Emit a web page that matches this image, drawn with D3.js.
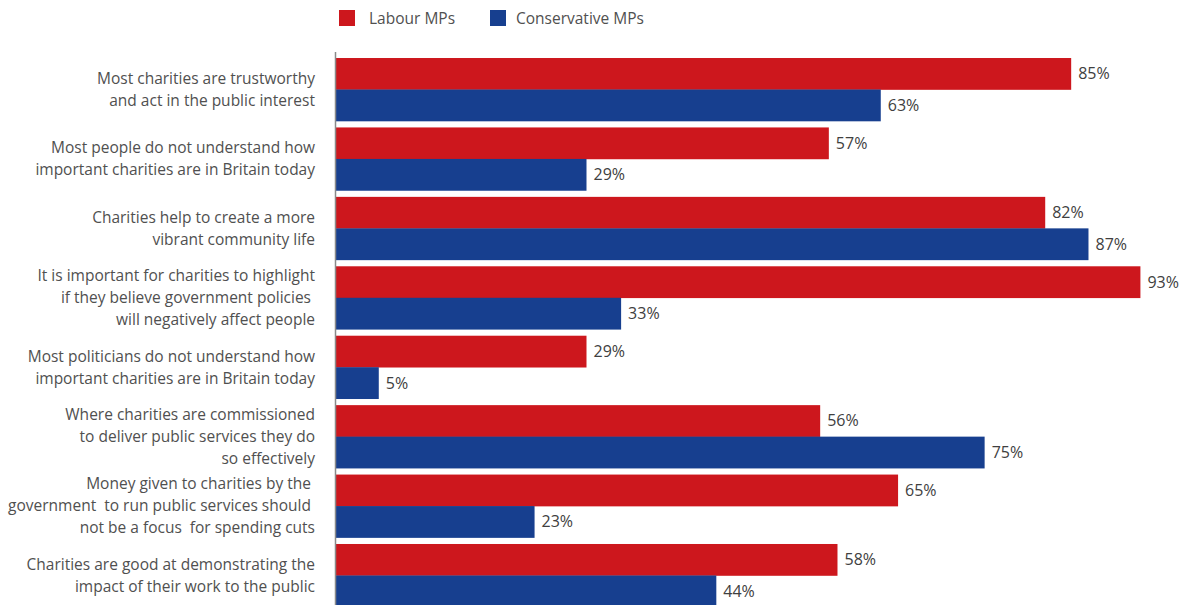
<!DOCTYPE html>
<html><head><meta charset="utf-8">
<script src="https://cdn.jsdelivr.net/npm/d3@7"></script>
<style>body{margin:0;background:#fff}svg{display:block}</style>
</head><body><svg id="c" width="1194" height="605"></svg>
<script>
const categories = [
  ["Most charities are trustworthy","and act in the public interest"],
  ["Most people do not understand how","important charities are in Britain today"],
  ["Charities help to create a more","vibrant community life"],
  ["It is important for charities to highlight","if they believe government policies ","will negatively affect people"],
  ["Most politicians do not understand how","important charities are in Britain today"],
  ["Where charities are commissioned","to deliver public services they do","so effectively"],
  ["Money given to charities by the ","government  to run public services should ","not be a focus  for spending cuts"],
  ["Charities are good at demonstrating the","impact of their work to the public"]
];
const seriesNames = ["Labour MPs","Conservative MPs"];
const labour = [85,57,82,93,29,56,65,58];
const conservative = [63,29,87,33,5,75,23,44];
const colors = ["#cd171d","#173f8f"];

const svg = d3.select("#c");
const x = d3.scaleLinear().domain([0,100]).range([335.5,1201]);
const y = d3.scaleBand().domain(d3.range(categories.length)).range([54.8,610.2]).paddingInner(0.0926).paddingOuter(0.0463);
const ySub = d3.scaleBand().domain([0,1]).range([0,y.bandwidth()]);
const series = [labour, conservative];

const g = svg.append("g");
categories.forEach((cat,i)=>{
  series.forEach((s,k)=>{
    const yy = y(i)+ySub(k);
    g.append("rect").attr("x",x(0)).attr("y",yy).attr("width",x(s[i])-x(0)).attr("height",ySub.bandwidth()+0.3).attr("fill",colors[k]);
    g.append("text").attr("x",x(s[i])+7).attr("y",yy+ySub.bandwidth()/2).attr("dy","0.35em")
      .attr("font-family","'Open Sans', sans-serif").attr("font-size",16).attr("fill","#404040").text(s[i]+"%");
  });
  const cy = y(i)+y.bandwidth()/2;
  const n = cat.length, lh = 22;
  cat.forEach((line,j)=>{
    g.append("text").attr("x",315).attr("y",cy+(j-(n-1)/2)*lh).attr("dy","0.35em").attr("text-anchor","end")
      .attr("font-family","'Open Sans', sans-serif").attr("font-size",15.5).attr("fill","#505050").style("white-space","pre").text(line);
  });
});
// axis
svg.append("line").attr("x1",335.5).attr("x2",335.5).attr("y1",52).attr("y2",605).attr("stroke","#8a8a8a").attr("stroke-width",1.5);

// legend
const legX = [339,490], legT = [369,516];
seriesNames.forEach((n,k)=>{
  svg.append("rect").attr("x",legX[k]).attr("y",10).attr("width",16).attr("height",16).attr("fill",colors[k]);
  svg.append("text").attr("x",legT[k]).attr("y",19).attr("dy","0.35em").attr("font-family","'Open Sans', sans-serif").attr("font-size",15.5).attr("fill","#505050").text(n);
});
</script></body></html>
